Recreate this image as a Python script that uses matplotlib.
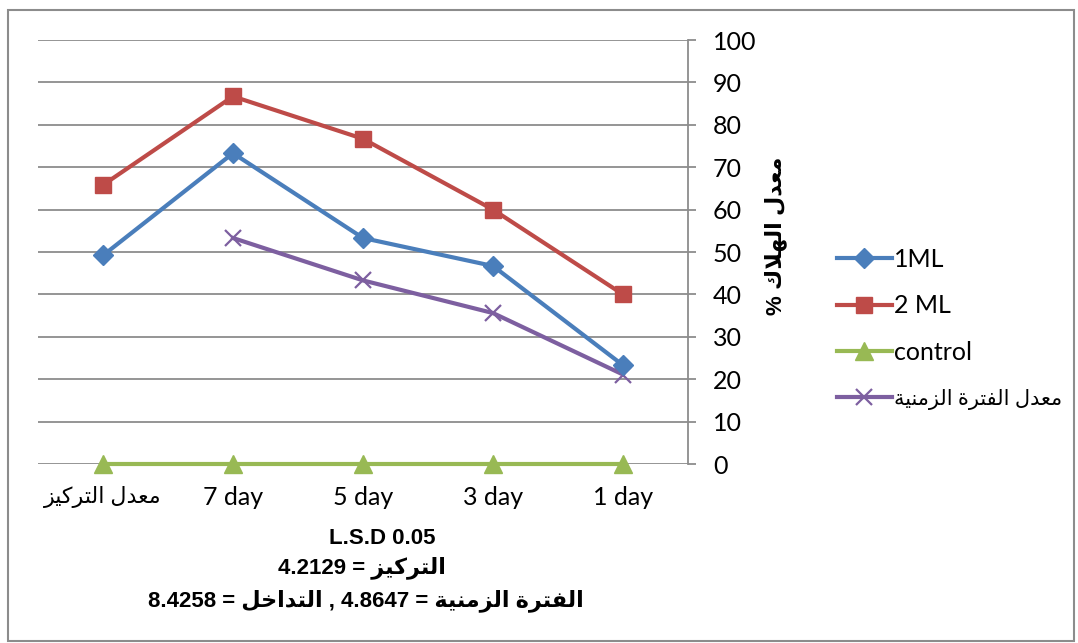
import matplotlib
matplotlib.use("Agg")
import matplotlib.pyplot as plt
import numpy as np
from matplotlib.font_manager import FontProperties
from matplotlib.patches import Rectangle

# ---------------- data ----------------
categories = ["معدل التركيز", "7 day", "5 day", "3 day", "1 day"]
series_1ml = [49.2, 73.3, 53.3, 46.7, 23.3]
series_2ml = [65.8, 86.7, 76.7, 60.0, 40.0]
series_control = [0, 0, 0, 0, 0]
series_period_mean = [np.nan, 53.3, 43.3, 35.6, 21.1]
series_names = ["1ML", "2 ML", "control", "معدل الفترة الزمنية"]
y_ticks = [0, 10, 20, 30, 40, 50, 60, 70, 80, 90, 100]
y_label = "معدل الهلاك"
lsd_title = "L.S.D 0.05"
lsd_conc_name = "التركيز"
lsd_conc_val = "4.2129"
lsd_period_name = "الفترة الزمنية"
lsd_period_val = "4.8647"
lsd_inter_name = "التداخل"
lsd_inter_val = "8.4258"

# ---------------- simple Arabic shaping (visual order) ----------------
FORMS = {  # iso, fin, ini, med
    'ا': ('\uFE8D', '\uFE8E', None, None),
    'ت': ('\uFE95', '\uFE96', '\uFE97', '\uFE98'),
    'ة': ('\uFE93', '\uFE94', None, None),
    'خ': ('\uFEA5', '\uFEA6', '\uFEA7', '\uFEA8'),
    'د': ('\uFEA9', '\uFEAA', None, None),
    'ر': ('\uFEAD', '\uFEAE', None, None),
    'ز': ('\uFEAF', '\uFEB0', None, None),
    'ع': ('\uFEC9', '\uFECA', '\uFECB', '\uFECC'),
    'ف': ('\uFED1', '\uFED2', '\uFED3', '\uFED4'),
    'ك': ('\uFED9', '\uFEDA', '\uFEDB', '\uFEDC'),
    'ل': ('\uFEDD', '\uFEDE', '\uFEDF', '\uFEE0'),
    'م': ('\uFEE1', '\uFEE2', '\uFEE3', '\uFEE4'),
    'ن': ('\uFEE5', '\uFEE6', '\uFEE7', '\uFEE8'),
    'ه': ('\uFEE9', '\uFEEA', '\uFEEB', '\uFEEC'),
    'ي': ('\uFEF1', '\uFEF2', '\uFEF3', '\uFEF4'),
}


def dual(c):
    return c in FORMS and FORMS[c][2] is not None


def shape(text):
    out = []
    i = 0
    n = len(text)
    while i < n:
        c = text[i]
        if c not in FORMS:
            out.append(c)
            i += 1
            continue
        prev = text[i - 1] if i > 0 else ''
        join_prev = dual(prev)
        if c == 'ل' and i + 1 < n and text[i + 1] == 'ا':
            out.append('\uFEFC' if join_prev else '\uFEFB')
            i += 2
            continue
        nxt = text[i + 1] if i + 1 < n else ''
        join_next = dual(c) and nxt in FORMS
        iso, fin, ini, med = FORMS[c]
        if join_prev and join_next:
            out.append(med)
        elif join_prev:
            out.append(fin)
        elif join_next:
            out.append(ini)
        else:
            out.append(iso)
        i += 1
    return ''.join(out)


def vis(text):
    return shape(text)[::-1]


def is_ar(s):
    return any(('\u0600' <= ch <= '\u06FF') or ('\uFE70' <= ch <= '\uFEFF')
               for ch in s)


# ---------------- figure ----------------
W, H = 1078, 643
fig = plt.figure(figsize=(W / 100, H / 100), dpi=100)
fig.patch.set_facecolor('white')

ax = fig.add_axes([38 / W, 1 - 464 / H, (688 - 38) / W, (464 - 40) / H])

x = np.arange(len(categories))
c_blue = '#4A7EBB'
c_red = '#BE4B48'
c_green = '#98B954'
c_purple = '#7D5FA0'
fam = ['Lato', 'DejaVu Sans']

ax.plot(x, series_control, color=c_green, lw=3, marker='^', ms=13,
        mec=c_green, mfc=c_green, label=series_names[2], zorder=3,
        clip_on=False)
ax.plot(x, series_period_mean, color=c_purple, lw=3, marker='x', ms=11,
        mew=1.6, mec=c_purple, label=vis(series_names[3]), zorder=4,
        clip_on=False)
ax.plot(x, series_1ml, color=c_blue, lw=3, marker='D', ms=10,
        mec=c_blue, mfc=c_blue, label=series_names[0], zorder=5,
        clip_on=False)
ax.plot(x, series_2ml, color=c_red, lw=3, marker='s', ms=12,
        mec=c_red, mfc=c_red, label=series_names[1], zorder=5,
        clip_on=False)

ax.set_xlim(-0.5, len(categories) - 0.5)
ax.set_ylim(0, 100)
ax.set_yticks(y_ticks)
ax.yaxis.tick_right()
ax.grid(axis='y', color='#8C8C8C', lw=1.3, zorder=1)
ax.set_axisbelow(True)
for s in ['left', 'top', 'bottom']:
    ax.spines[s].set_visible(False)
ax.spines['right'].set_color('#8C8C8C')
ax.spines['right'].set_linewidth(1.3)
ax.tick_params(axis='y', length=6, width=1.3, color='#8C8C8C', pad=12,
               labelsize=18)
ax.tick_params(axis='x', length=0, pad=16, labelsize=18)
for lab in ax.get_yticklabels():
    lab.set_family(fam)
    lab.set_horizontalalignment('left')

ax.set_xticks(x)
ax.set_xticklabels([vis(c) if is_ar(c) else c for c in categories])
for lab, c in zip(ax.get_xticklabels(), categories):
    lab.set_family(fam)
    if is_ar(c):
        lab.set_fontsize(16)

# legend in the order 1ML, 2 ML, control, mean
handles, labels = ax.get_legend_handles_labels()
order = [2, 3, 0, 1]
leg = fig.legend([handles[i] for i in order], [labels[i] for i in order],
                 loc='center left', bbox_to_anchor=(814 / W, 1 - 329 / H),
                 frameon=False, handlelength=2.2, handletextpad=0.1,
                 labelspacing=0.95,
                 prop=FontProperties(family=fam, size=18))
for t in leg.get_texts():
    if is_ar(t.get_text()):
        t.set_fontsize(15)

# y label (rotated, right of axis)
fig.text(776 / W, 1 - 236 / H, '% ' + vis(y_label), rotation=90,
         ha='center', va='center', fontsize=16, fontweight='bold',
         family=['Liberation Sans', 'DejaVu Sans'])

# LSD notes
fam_b = ['Liberation Sans', 'DejaVu Sans']
fig.text(382 / W, 1 - 538 / H, lsd_title, ha='center', va='center',
         fontsize=16, fontweight='bold', family=fam_b)
fig.text(362 / W, 1 - 568 / H, lsd_conc_val + ' = ' + vis(lsd_conc_name),
         ha='center', va='center', fontsize=16, fontweight='bold', family=fam_b)
fig.text(366 / W, 1 - 601 / H,
         lsd_inter_val + ' = ' + vis(lsd_inter_name) + ' , ' + lsd_period_val
         + ' = ' + vis(lsd_period_name),
         ha='center', va='center', fontsize=16, fontweight='bold', family=fam_b)

# outer border
fig.patches.append(Rectangle((8 / W, 2 / H), (1074 - 8) / W, (633 - 2) / H,
                             transform=fig.transFigure, fill=False,
                             edgecolor='#8C8C8C', lw=1.5))

fig.savefig('out.png', dpi=100)
